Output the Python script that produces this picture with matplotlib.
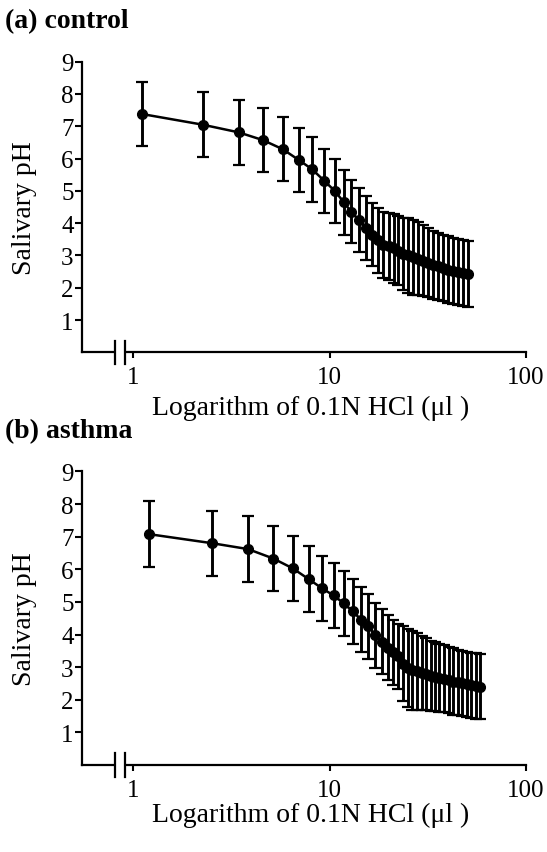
import matplotlib
matplotlib.use('Agg')
import matplotlib.pyplot as plt
from matplotlib.ticker import FixedLocator, FixedFormatter, NullLocator
from matplotlib.patches import Rectangle

plt.rcParams['font.family'] = ['Liberation Serif', 'DejaVu Serif']

# (a) control
ctrl_x = [1.11, 2.26, 3.46, 4.59, 5.78, 7.0, 8.15, 9.41, 10.67, 11.85,
          12.9, 14.09, 15.27, 16.45, 17.63, 18.81, 19.99, 21.17, 22.35, 23.66,
          25.09, 26.6, 28.2, 29.9, 31.7, 33.6, 35.6, 37.8, 40.1, 42.5,
          45.1, 47.8, 50.7]
ctrl_ph = [7.38, 7.05, 6.81, 6.57, 6.29, 5.95, 5.67, 5.31, 4.99, 4.64,
           4.35, 4.10, 3.85, 3.64, 3.47, 3.32, 3.28, 3.22, 3.15, 3.05,
           3.00, 2.95, 2.90, 2.84, 2.77, 2.71, 2.66, 2.61, 2.56, 2.52,
           2.48, 2.45, 2.42]
ctrl_sd = [1.0, 1.0, 1.0, 1.0, 1.0, 1.0, 1.0, 1.0, 1.0, 1.0,
           0.98, 0.98, 0.98, 0.98, 1.0, 1.02, 1.04, 1.06, 1.08, 1.12,
           1.15, 1.16, 1.14, 1.1, 1.07, 1.05, 1.04, 1.03, 1.03, 1.02,
           1.02, 1.02, 1.02]

# (b) asthma
asth_x = [1.2, 2.53, 3.85, 5.18, 6.5, 7.83, 9.15, 10.48, 11.8, 13.13,
          14.45, 15.78, 17.1, 18.43, 19.75, 21.08, 22.4, 23.77, 25.09, 26.42,
          27.88, 29.39, 30.98, 32.66, 34.43, 36.29, 38.26, 40.33, 42.51, 44.82,
          47.24, 49.8, 52.5, 55.34, 58.34]
asth_ph = [7.08, 6.80, 6.62, 6.33, 6.03, 5.70, 5.42, 5.20, 4.96, 4.71,
           4.46, 4.25, 3.98, 3.78, 3.60, 3.45, 3.33, 3.10, 2.98, 2.90,
           2.87, 2.83, 2.78, 2.74, 2.71, 2.68, 2.64, 2.60, 2.56, 2.53,
           2.50, 2.47, 2.44, 2.42, 2.40]
asth_sd = [1.0, 1.0, 1.0, 1.0, 1.0, 1.0, 1.0, 1.0, 1.0, 1.0,
           1.0, 1.0, 1.0, 1.0, 1.0, 1.0, 1.0, 1.15, 1.2, 1.2,
           1.17, 1.13, 1.1, 1.07, 1.05, 1.04, 1.03, 1.02, 1.02, 1.0,
           1.0, 1.0, 1.0, 1.0, 1.0]

x_ticks = [1, 10, 100]
x_labels = ['1', '10', '100']
y_ticks = [1, 2, 3, 4, 5, 6, 7, 8, 9]

fig = plt.figure(figsize=(5.47, 8.53), dpi=100)


def draw_panel(ax, x, y, sd, xlab_y):
    ax.errorbar(x, y, yerr=sd, fmt='-o', color='black', ms=7, lw=1.8,
                elinewidth=2.1, capsize=4, capthick=1.6, clip_on=False)
    ax.set_xscale('log')
    ax.set_xlim(0.55, 100)
    ax.set_ylim(0, 9)
    ax.xaxis.set_major_locator(FixedLocator(x_ticks))
    ax.xaxis.set_major_formatter(FixedFormatter(x_labels))
    ax.xaxis.set_minor_locator(NullLocator())
    ax.yaxis.set_major_locator(FixedLocator(y_ticks))
    for s in ['top', 'right']:
        ax.spines[s].set_visible(False)
    for s in ['left', 'bottom']:
        ax.spines[s].set_linewidth(1.6)
    ax.tick_params(axis='x', length=4, width=1.5, pad=6, labelsize=18)
    ax.tick_params(axis='y', length=5, width=1.5, pad=1, labelsize=18)
    ax.set_ylabel('Salivary pH', fontsize=20)
    ax.yaxis.set_label_coords(-0.101, 0.5)
    ax.set_xlabel('Logarithm of 0.1N HCl (\u03bcl )', fontsize=20)
    ax.xaxis.set_label_coords(0.516, xlab_y)
    # axis break
    ax.add_patch(Rectangle((0.076, -0.02), 0.019, 0.04, transform=ax.transAxes,
                           facecolor='white', edgecolor='none', clip_on=False, zorder=5))
    for bx in [0.0743, 0.0968]:
        ax.plot([bx, bx], [-0.04, 0.04], transform=ax.transAxes, color='black',
                lw=1.6, clip_on=False, zorder=6)


ax1 = fig.add_axes([0.1499, 0.5858, 0.8117, 0.3407])
draw_panel(ax1, ctrl_x, ctrl_ph, ctrl_sd, -0.147)
ax2 = fig.add_axes([0.1499, 0.1020, 0.8117, 0.3441])
draw_panel(ax2, asth_x, asth_ph, asth_sd, -0.126)

fig.text(0.010, 1 - 22 / 853, '(a) control', fontsize=20, fontweight='bold',
         ha='left', va='center')
fig.text(0.010, 1 - 432 / 853, '(b) asthma', fontsize=20, fontweight='bold',
         ha='left', va='center')

fig.savefig('out.png', dpi=100)
